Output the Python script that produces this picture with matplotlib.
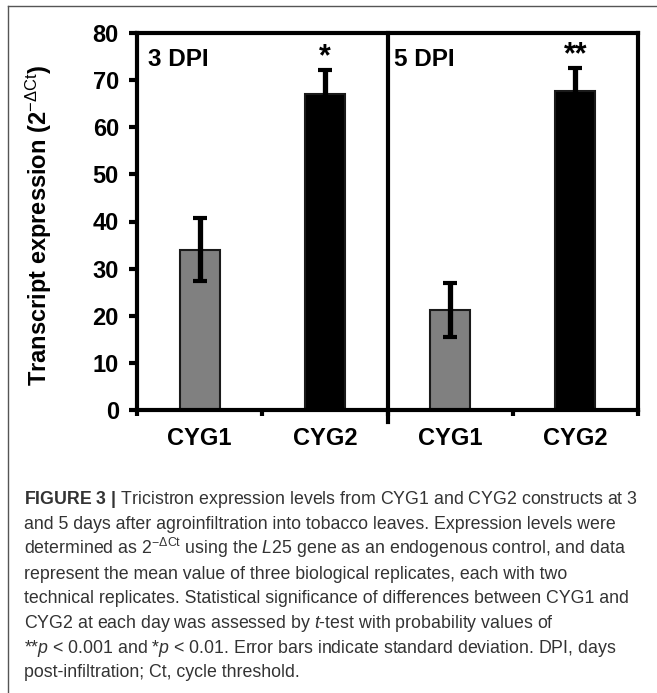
import matplotlib
matplotlib.use("Agg")
import matplotlib.pyplot as plt
from matplotlib.lines import Line2D

# data
groups = ["CYG1", "CYG2", "CYG1", "CYG2"]
means = [34.0, 67.0, 21.2, 67.6]
sd = [6.7, 5.2, 5.8, 5.0]
bar_colors = ["#808080", "#000000", "#808080", "#000000"]
stars = ["", "*", "", "**"]
panels = ["3 DPI", "5 DPI"]
yticks = [0, 10, 20, 30, 40, 50, 60, 70, 80]

caption = [
    r"$\mathbf{FIGURE\ 3\ |}$ Tricistron expression levels from CYG1 and CYG2 constructs at 3",
    "and 5 days after agroinfiltration into tobacco leaves. Expression levels were",
    r"determined as 2$^{-\Delta\mathrm{Ct}}$ using the $\mathit{L25}$ gene as an endogenous control, and data",
    "represent the mean value of three biological replicates, each with two",
    "technical replicates. Statistical significance of differences between CYG1 and",
    r"CYG2 at each day was assessed by $t$-test with probability values of",
    r"**$p$ < 0.001 and *$p$ < 0.01. Error bars indicate standard deviation. DPI, days",
    "post-infiltration; Ct, cycle threshold.",
]

plt.rcParams['font.family'] = ['Liberation Sans', 'DejaVu Sans']
plt.rcParams['mathtext.fontset'] = 'custom'
plt.rcParams['mathtext.rm'] = 'Liberation Sans'
plt.rcParams['mathtext.it'] = 'Liberation Sans:italic'
plt.rcParams['mathtext.bf'] = 'Liberation Sans:bold'

W, H = 657, 693
fig = plt.figure(figsize=(W / 100, H / 100), dpi=100)
ax = fig.add_axes([137 / W, 1 - 410 / H, 501 / W, 377 / H])

x = list(range(len(groups)))
ax.bar(x, means, width=0.32, color=bar_colors, edgecolor="#1a1a1a",
       linewidth=1.5, zorder=2)
ax.errorbar(x, means, yerr=sd, fmt="none", ecolor="black", elinewidth=3.8,
            capsize=4.7, capthick=3, zorder=3)

for i, s in enumerate(stars):
    if s:
        ax.text(i, means[i] + sd[i] + 2.6, s, ha="center", va="center",
                fontsize=22, fontweight="bold")

ax.text(-0.41, 74.3, panels[0], ha="left", va="center", fontsize=17.5,
        fontweight="bold")
ax.text(1.55, 74.3, panels[1], ha="left", va="center", fontsize=17.5,
        fontweight="bold")

ax.set_xlim(-0.5, 3.5)
ax.set_ylim(0, 80)
ax.axvline(1.5, ymin=-0.032, ymax=1, color="black", lw=3, clip_on=False)

for sp in ax.spines.values():
    sp.set_linewidth(3)

ax.set_xticks([-0.5, 0.5, 1.5, 2.5, 3.5])
ax.set_xticklabels([])
ax.tick_params(axis="x", which="major", length=4.5, width=3, direction="out")
ax.set_xticks(x, minor=True)
ax.set_xticklabels(groups, minor=True, fontsize=17, fontweight="bold")
ax.tick_params(axis="x", which="minor", length=0, pad=12)

ax.set_yticks(yticks)
ax.set_yticklabels([str(v) for v in yticks], fontsize=17, fontweight="bold")
ax.tick_params(axis="y", length=6, width=3, direction="out", pad=7)

ax.set_ylabel(r"Transcript expression (2$^{\mathrm{-\Delta Ct}}$)",
              fontsize=17, fontweight="bold")
ax.yaxis.set_label_coords(-0.166, 0.49)

# outer frame (cropped on right/bottom)
fig.add_artist(Line2D([8 / W, 1], [1 - 6 / H, 1 - 6 / H],
                      transform=fig.transFigure, color="#555555", lw=1))
fig.add_artist(Line2D([8 / W, 8 / W], [0, 1 - 6 / H],
                      transform=fig.transFigure, color="#555555", lw=1))

for k, line in enumerate(caption):
    yb = 504.5 + k * 24.7
    fig.text(24 / W, 1 - yb / H, line, ha="left", va="baseline",
             fontsize=12.8, color="#333333")

fig.savefig("out.png", dpi=100)
